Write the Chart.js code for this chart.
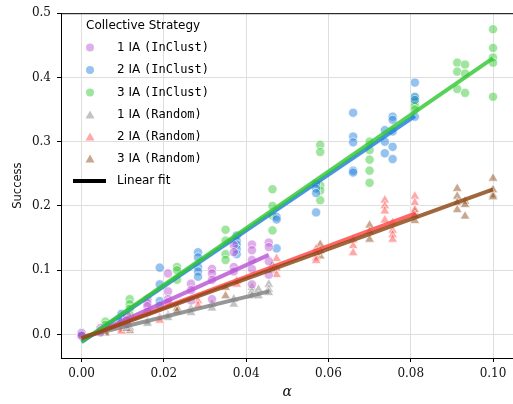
<!DOCTYPE html>
<html>
<head>
<meta charset="utf-8">
<script src="https://cdn.jsdelivr.net/npm/chart.js@4.4.1/dist/chart.umd.min.js"></script>
<style>
  html, body { margin: 0; padding: 0; background: #fff; overflow: hidden; }
  #wrap { position: absolute; left: 0; top: 0; width: 520px; height: 404px; }
</style>
</head>
<body>
<div id="wrap"><canvas id="chart" width="520" height="404"></canvas></div>
<script>
// Tick labels
const xTicks = [0, 0.02, 0.04, 0.06, 0.08, 0.1];
const yTicks = [0, 0.1, 0.2, 0.3, 0.4, 0.5];

// 1 IA (InClust) / 1 IA (Random) -- alpha columns and replicate values
const ia1X = [0, 0.0046, 0.011, 0.016, 0.021, 0.0266, 0.0317, 0.037, 0.0414, 0.0455];
const ia1InClust = [[0.002, 0.0, -0.002], [0.01, 0.006, 0.003], [0.03, 0.022, 0.016], [0.055, 0.049, 0.044, 0.035],
  [0.095, 0.067, 0.055, 0.05], [0.079, 0.069, 0.053], [0.102, 0.095, 0.085, 0.055], [0.139, 0.128, 0.105, 0.098],
  [0.14, 0.131, 0.116, 0.102, 0.078], [0.143, 0.136, 0.114, 0.093]];
const ia1RandomX = [0, 0.0046, 0.011, 0.016, 0.021, 0.0266, 0.0317, 0.037, 0.0414, 0.043, 0.0455];
const ia1Random = [[0.001, -0.001], [0.004, 0.002], [0.012, 0.009], [0.02, 0.017], [0.03, 0.026], [0.04, 0.034],
  [0.047, 0.041], [0.055, 0.047], [0.073, 0.067, 0.06], [0.07, 0.06], [0.078, 0.07, 0.065]];

// 2 IA
const ia2X = [0, 0.0097, 0.019, 0.0283, 0.0377, 0.0474, 0.057, 0.066, 0.0737, 0.0756, 0.081];
const ia2InClust = [[0.002, -0.001], [0.032, 0.025, 0.02], [0.104, 0.078, 0.052, 0.045], [0.128, 0.12, 0.105, 0.098, 0.09],
  [0.154, 0.146, 0.14, 0.133, 0.125], [0.183, 0.179, 0.134], [0.235, 0.227, 0.22, 0.19], [0.345, 0.308, 0.299, 0.255, 0.252],
  [0.318, 0.3, 0.282], [0.339, 0.334, 0.316, 0.292, 0.273], [0.392, 0.37, 0.365, 0.339]];
const ia2Random = [[0.0, -0.002], [0.008, 0.005], [0.026, 0.022], [0.052, 0.045], [0.083, 0.078], [0.118, 0.103, 0.093],
  [0.133, 0.127, 0.119, 0.115], [0.147, 0.138, 0.127], [0.209, 0.2, 0.192, 0.178], [0.174, 0.162, 0.155, 0.148],
  [0.215, 0.205, 0.194, 0.185]];

// 3 IA
const ia3X = [0, 0.0058, 0.0117, 0.0232, 0.035, 0.0464, 0.058, 0.07, 0.081, 0.0913, 0.0932, 0.1];
const ia3InClust = [[0.002, 0.0, -0.002], [0.02, 0.015], [0.055, 0.047, 0.04, 0.03], [0.105, 0.1, 0.085],
  [0.163, 0.146, 0.125, 0.116], [0.226, 0.2, 0.185, 0.162], [0.295, 0.284, 0.232, 0.224, 0.209],
  [0.3, 0.287, 0.272, 0.255, 0.236], [0.368, 0.362, 0.356, 0.35], [0.423, 0.409, 0.382], [0.42, 0.406, 0.376],
  [0.475, 0.446, 0.431, 0.423, 0.37]];
const ia3Random = [[0.002, 0.0], [0.004, 0.002], [0.01, 0.006], [0.041, 0.036], [0.073, 0.06], [0.108, 0.1],
  [0.14, 0.13, 0.122], [0.17, 0.16, 0.148], [0.19, 0.185, 0.177], [0.227, 0.215, 0.205, 0.194],
  [0.207, 0.202, 0.184], [0.243, 0.225, 0.217, 0.214]];

// Linear fits (start at alpha = 0, end at last column)
const fitNames = ['1 IA (InClust)', '2 IA (InClust)', '3 IA (InClust)', '1 IA (Random)', '2 IA (Random)', '3 IA (Random)'];
const fitEndX = [0.0455, 0.081, 0.1, 0.0455, 0.081, 0.1];
const fitStartY = [-0.008, -0.012, -0.011, -0.004, -0.006, -0.006];
const fitEndY = [0.124, 0.34, 0.43, 0.067, 0.188, 0.226];

const seriesColors = ['186,85,211', '30,125,220', '50,200,50', '128,128,128', '255,70,70', '139,69,19'];
const seriesShapes = ['circle', 'circle', 'circle', 'triangle', 'triangle', 'triangle'];
const seriesX = [ia1X, ia2X, ia3X, ia1RandomX, ia2X, ia3X];
const seriesY = [ia1InClust, ia2InClust, ia3InClust, ia1Random, ia2Random, ia3Random];

function toPoints(xs, ys) {
  const pts = [];
  xs.forEach((x, i) => ys[i].forEach(v => pts.push({ x: x, y: v })));
  return pts;
}

const datasets = [];
// line draw order: lower "order" ends up on top
const lineOrder = [4, 3, 1, 5, 2, 0];
fitNames.forEach((name, i) => {
  datasets.push({
    type: 'line',
    label: name + ' fit',
    data: [{ x: 0, y: fitStartY[i] }, { x: fitEndX[i], y: fitEndY[i] }],
    borderColor: 'rgba(' + seriesColors[i] + ',0.82)',
    borderWidth: 4,
    pointRadius: 0,
    fill: false,
    order: lineOrder[i]
  });
});
fitNames.forEach((name, i) => {
  const tri = seriesShapes[i] === 'triangle';
  datasets.push({
    type: 'scatter',
    label: name,
    data: toPoints(seriesX[i], seriesY[i]),
    pointStyle: seriesShapes[i],
    pointRadius: tri ? 5.6 : 4.6,
    backgroundColor: 'rgba(' + seriesColors[i] + ',0.47)',
    borderColor: 'rgba(255,255,255,0.8)',
    borderWidth: 0.8,
    order: 10 + i
  });
});

// Legend drawn by hand: sans text with typewriter part
const legendPlugin = {
  id: 'customLegend',
  afterDraw(chart) {
    const ctx = chart.ctx;
    ctx.save();
    ctx.textBaseline = 'middle';
    ctx.fillStyle = '#000';
    ctx.font = '12px "DejaVu Sans"';
    ctx.fillText('Collective Strategy', 86, 26);
    const rowY = [47.5, 70, 92.5, 115, 137, 159];
    fitNames.forEach((name, i) => {
      const y = rowY[i];
      ctx.fillStyle = 'rgba(' + seriesColors[i] + ',0.47)';
      ctx.beginPath();
      if (seriesShapes[i] === 'circle') {
        ctx.arc(90, y, 4, 0, Math.PI * 2);
      } else {
        ctx.moveTo(90, y - 4.5);
        ctx.lineTo(94.5, y + 3.5);
        ctx.lineTo(85.5, y + 3.5);
        ctx.closePath();
      }
      ctx.fill();
      const parts = name.split(' (');
      ctx.fillStyle = '#000';
      ctx.font = '12px "DejaVu Sans"';
      const lead = parts[0] + ' ';
      ctx.fillText(lead, 117, y);
      const w = ctx.measureText(lead).width;
      ctx.font = '12px "DejaVu Sans Mono"';
      ctx.fillText('(' + parts[1], 117 + w, y);
    });
    ctx.strokeStyle = '#000';
    ctx.lineWidth = 4;
    ctx.beginPath();
    ctx.moveTo(73, 181);
    ctx.lineTo(106, 181);
    ctx.stroke();
    ctx.font = '12px "DejaVu Sans"';
    ctx.fillText('Linear fit', 117, 181);
    // top spine
    ctx.strokeStyle = '#000';
    ctx.lineWidth = 1;
    ctx.beginPath();
    ctx.moveTo(chart.chartArea.left, chart.chartArea.top + 0.5);
    ctx.lineTo(chart.chartArea.right, chart.chartArea.top + 0.5);
    ctx.stroke();
    ctx.restore();
  }
};

new Chart(document.getElementById('chart'), {
  data: { datasets: datasets },
  plugins: [legendPlugin],
  options: {
    responsive: false,
    animation: false,
    layout: { padding: { top: 6, right: 3, left: 0, bottom: 0 } },
    plugins: { legend: { display: false }, tooltip: { enabled: false } },
    scales: {
      x: {
        type: 'linear',
        min: -0.005,
        max: 0.105,
        afterFit: s => { s.height = 46; },
        afterBuildTicks: s => { s.ticks = xTicks.map(v => ({ value: v })); },
        grid: { color: '#dedede', lineWidth: 1, tickLength: 4, tickColor: '#000' },
        border: { display: true, color: '#000', width: 1 },
        ticks: {
          color: '#111',
          padding: 5,
          font: { family: 'DejaVu Serif', size: 12 },
          callback: v => v.toFixed(2)
        },
        title: {
          display: true,
          text: 'α',
          color: '#111',
          font: { family: 'DejaVu Serif', size: 14, style: 'italic' },
          padding: { top: 0, bottom: 3 }
        }
      },
      y: {
        type: 'linear',
        min: -0.0366,
        max: 0.5,
        afterFit: s => { s.width = 61; },
        afterBuildTicks: s => { s.ticks = yTicks.map(v => ({ value: v })); },
        grid: { color: '#dedede', lineWidth: 1, tickLength: 4, tickColor: '#000' },
        border: { display: true, color: '#000', width: 1 },
        ticks: {
          color: '#111',
          padding: 6,
          font: { family: 'DejaVu Serif', size: 12 },
          callback: v => v.toFixed(1)
        },
        title: {
          display: true,
          text: 'Success',
          color: '#111',
          font: { family: 'DejaVu Sans', size: 11.5 },
          padding: { top: 11, bottom: 0 }
        }
      }
    }
  }
});
</script>
</body>
</html>
